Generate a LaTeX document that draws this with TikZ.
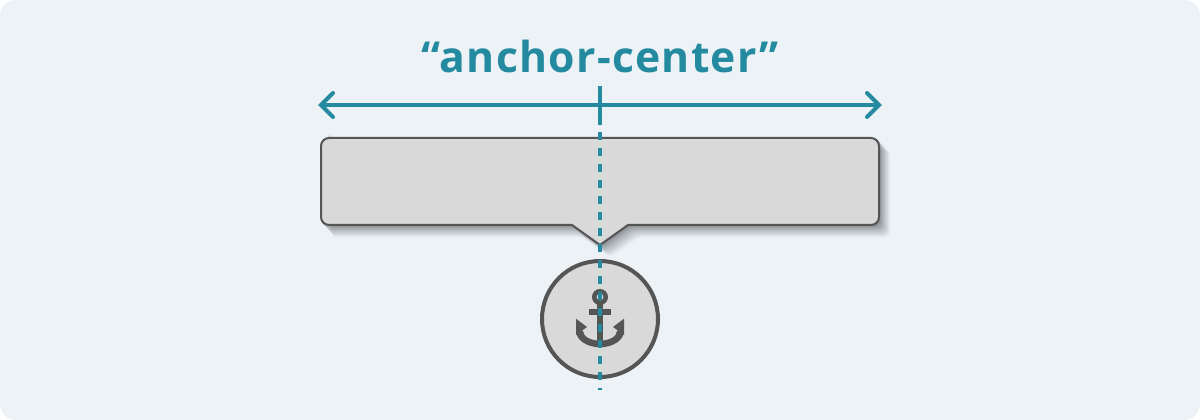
\documentclass[tikz,border=0pt]{standalone}
\usepackage{fontspec}
\newfontfamily\titlefont[LetterSpace=3.0]{Open Sans Bold}
\definecolor{bgc}{HTML}{EDF2F7}
\definecolor{teal}{HTML}{238A9F}
\definecolor{edgec}{HTML}{555555}
\definecolor{fillc}{HTML}{D9D9D9}
\definecolor{shadowc}{HTML}{30343A}
\tikzset{
  tealline/.style={draw=teal,line width=3pt},
  chevron/.style={draw=teal,line width=3pt,line cap=round,miter limit=10},
  partline/.style={draw=edgec,line width=1.5pt,line join=round},
  titletext/.style={text=teal,inner sep=0pt,font=\titlefont\fontsize{32pt}{40pt}\selectfont,anchor=base},
  ringline/.style={draw=edgec,line width=3pt,fill=fillc}
}
\def\calloutpath{(329,138) -- (871,138) .. controls (875.4,138) and (879,141.6) .. (879,146) -- (879,217) .. controls (879,221.4) and (875.4,225) .. (871,225) -- (628,225) -- (600,245) -- (572,225) -- (329,225) .. controls (324.6,225) and (321,221.4) .. (321,217) -- (321,146) .. controls (321,141.6) and (324.6,138) .. (329,138) -- cycle}
\begin{document}
\begin{tikzpicture}[x=0.75pt,y=-0.75pt]
\useasboundingbox (0,0) rectangle (1200,420);
\fill[white] (0,0) rectangle (1200,420);
\fill[bgc,rounded corners=12pt] (0,0) rectangle (1200,420);
\node[titletext] (title) at (600,73) {“anchor-center”};
% soft shadow: stacked copies, denser near the box edge
\foreach \d in {1,...,24}{
  \pgfmathsetmacro{\off}{13*pow(\d/24,1.7)}
  \begin{scope}[shift={(\off*0.85,\off*0.95)}]
    \fill[shadowc,opacity=0.032,rounded corners=3pt] \calloutpath;
  \end{scope}
}
\path[partline,fill=fillc] \calloutpath;
% circle
\node[ringline,circle,minimum size=87pt,inner sep=0pt] (badge) at (600,319) {};
% anchor icon
\draw[draw=edgec,line width=3.4pt] (600,297) circle[x radius=5.7,y radius=-5.7];
\fill[edgec] (597.3,303) rectangle (602.7,345);
\fill[edgec] (589.3,309.3) rectangle (610.7,315.3);
\fill[edgec] (576,331) arc[start angle=180,end angle=0,x radius=24,y radius=16.3]
  -- (617,331) arc[start angle=0,end angle=180,x radius=17,y radius=9.7] -- cycle;
\fill[edgec] (576,318.7) -- (576,335) -- (587,327) -- cycle;
\fill[edgec] (624,318.7) -- (624,335) -- (613,327) -- cycle;
% width arrow
\coordinate (wl) at (321,105);
\coordinate (wr) at (879,105);
\draw[tealline] (wl) -- (wr);
\coordinate (la) at (333,93);
\coordinate (lb) at (333,117);
\coordinate (ra) at (867,93);
\coordinate (rb) at (867,117);
\draw[chevron] (la) -- (wl) -- (lb);
\draw[chevron] (ra) -- (wr) -- (rb);
% centre line
\coordinate (ct) at (600,86);
\coordinate (cm) at (600,125);
\coordinate (cd) at (600,132);
\coordinate (cb) at (600,390);
\draw[tealline] (ct) -- (cm);
\draw[tealline,dash pattern=on 6pt off 6pt] (cd) -- (cb);
\end{tikzpicture}
\end{document}
